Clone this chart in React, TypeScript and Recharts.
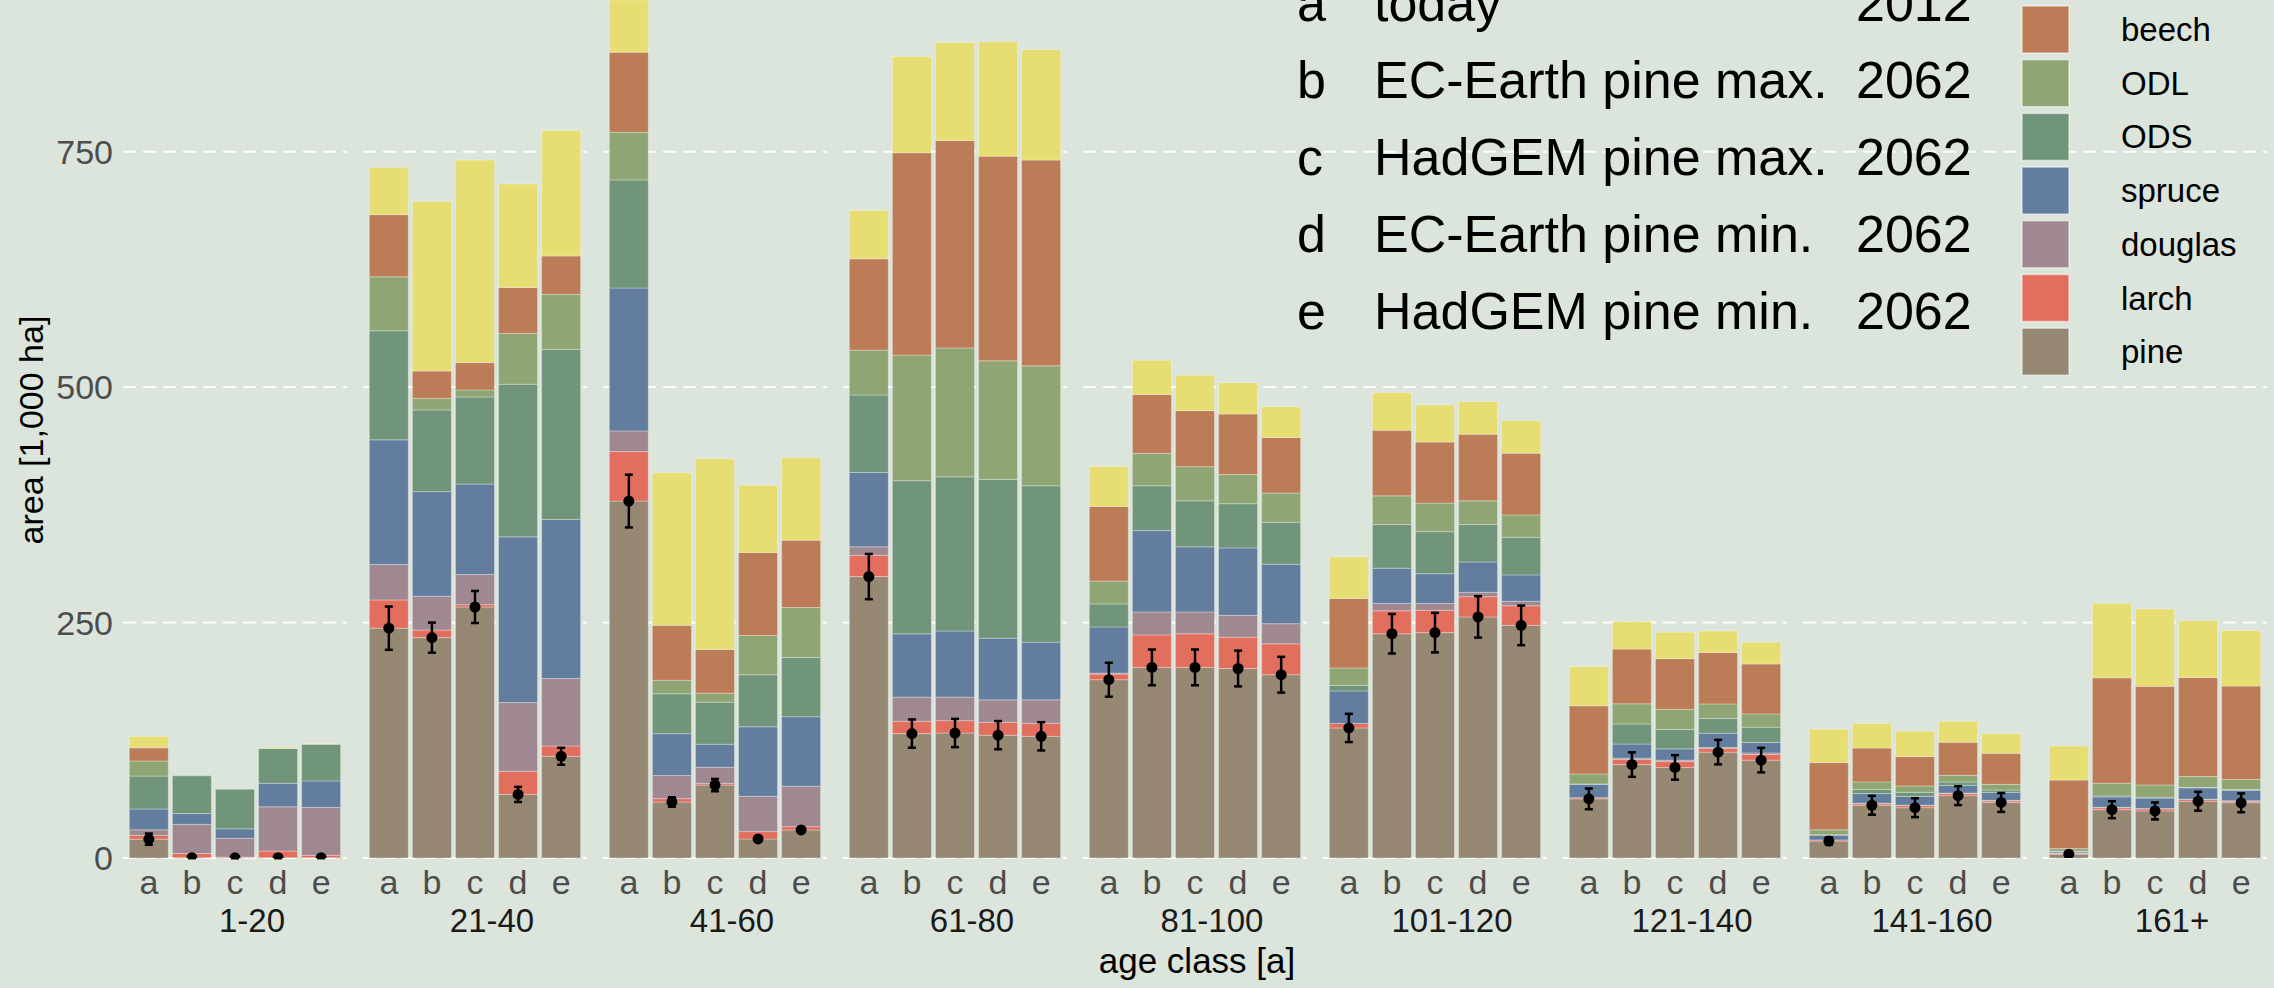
import React from "react";
import { ComposedChart, Bar, Scatter, ErrorBar, XAxis, YAxis, CartesianGrid } from "recharts";

// facets (age classes) and the 5 scenarios shown in each facet
const ageClasses = ["1-20", "21-40", "41-60", "61-80", "81-100", "101-120", "121-140", "141-160", "161+"];
const scenarios = ["a", "b", "c", "d", "e"];

// scenario key printed in the plot
const scenarioNames = ["today", "EC-Earth pine max.", "HadGEM pine max.", "EC-Earth pine min.", "HadGEM pine min."];
const scenarioYears = ["2012", "2062", "2062", "2062", "2062"];

// species, stacked bottom -> top
const speciesKeys = ["pine", "larch", "douglas", "spruce", "ODS", "ODL", "beech", "oak"];
const speciesColors: Record<string, string> = {
  pine: "#968872",
  larch: "#e26e5e",
  douglas: "#a08891",
  spruce: "#637d9e",
  ODS: "#71957a",
  ODL: "#8fa573",
  beech: "#bd7c58",
  oak: "#e6dd73",
};
// legend order, top -> bottom (oak sits above the visible area)
const legendKeys = ["beech", "ODL", "ODS", "spruce", "douglas", "larch", "pine"];

// area [1,000 ha], one row per age class, columns a..e
const pine = [
  [20, 0.3, 0.2, 0.3, 0.3],
  [244, 234, 266.5, 67.5, 108],
  [379, 59.5, 77.4, 20.2, 29.8],
  [298.8, 132.1, 132.7, 130.4, 129.2],
  [189.3, 202.4, 202.4, 201.2, 194.6],
  [138.1, 238.1, 239.3, 256, 247],
  [62.8, 99.2, 96.2, 112.4, 103.9],
  [18, 56, 53.4, 66.2, 59],
  [4, 51.3, 50, 60.3, 58.6],
];
const larch = [
  [4, 4.5, 0.8, 7, 2.5],
  [30, 8, 2.5, 24.5, 11],
  [52.5, 3.5, 1.8, 7.8, 3.5],
  [22.6, 13.1, 13.1, 13.6, 13.7],
  [6, 34.5, 35.6, 33.3, 32.8],
  [4.8, 24.4, 23.8, 21.4, 20.8],
  [1.3, 5.5, 6.4, 4, 6],
  [1.2, 1.7, 2.2, 2.2, 1.7],
  [1, 2.1, 2.1, 1.7, 1.7],
];
const douglas = [
  [6, 31, 20, 47, 51],
  [37.6, 36, 32, 73, 71.5],
  [22, 24.5, 17.2, 37.5, 42.9],
  [9, 25.6, 25, 23.9, 25],
  [1, 24.4, 23.3, 23.2, 21.4],
  [0, 7.7, 7.1, 4.7, 4.8],
  [0, 1.3, 1.3, 1, 1.7],
  [0, 0.5, 0.5, 0.5, 0.5],
  [0.5, 0.5, 0.5, 0.5, 0.5],
];
const spruce = [
  [22, 11.4, 10, 25, 28],
  [132.4, 111, 96, 176, 169],
  [151.7, 44.5, 24.4, 73.8, 73.8],
  [79, 67.2, 70.2, 65.4, 61.3],
  [49, 86.3, 69.1, 71.5, 63.1],
  [34.5, 37.5, 31.6, 32.2, 28],
  [14.1, 15, 12, 15, 11.1],
  [5, 10.2, 9.3, 8.2, 8.5],
  [1.5, 11, 11, 12, 11],
];
const ODS = [
  [35, 40, 42, 37, 39],
  [115.8, 86.7, 92.5, 162, 180.5],
  [114.8, 42.4, 44.7, 55.3, 63],
  [82.2, 162.6, 163.7, 168.5, 166],
  [24.4, 47.6, 48.8, 47, 44.6],
  [5.9, 46.5, 44.7, 39.9, 39.9],
  [0.5, 21.3, 20.5, 15.8, 16.2],
  [0.6, 4.3, 4.3, 3.5, 2.5],
  [0.5, 1, 1, 0.5, 1],
];
const ODL = [
  [16, 0, 0, 0, 0],
  [57.3, 12.3, 7.5, 54, 58.5],
  [50.6, 14.3, 9.5, 41.7, 53],
  [47.6, 133.4, 136.9, 126.1, 127.4],
  [24.4, 34.5, 36.3, 30.9, 31],
  [18.5, 30.3, 30.3, 25, 23.8],
  [10.6, 21.4, 21.4, 15.4, 14.1],
  [5.1, 8.1, 6.8, 7.2, 6],
  [2.5, 13.5, 13, 11.5, 10.5],
];
const beech = [
  [14, 0, 0, 0, 0],
  [66, 29, 29, 48.7, 40.7],
  [85, 58.3, 46.4, 88.1, 71.5],
  [97, 214.8, 220.3, 217.3, 218.4],
  [79.2, 62.5, 59.5, 64.3, 58.9],
  [73.8, 69.7, 64.8, 70.8, 65.5],
  [72.3, 58.1, 53.8, 54.7, 53],
  [71.4, 35.9, 31.2, 35.1, 32.9],
  [72.7, 112, 104.7, 105.2, 99.2],
];
const oak = [
  [12, 0, 0, 1, 0.5],
  [50, 180, 215, 110, 133.3],
  [100, 162, 202.4, 71.4, 87.5],
  [51.2, 102.2, 104.1, 121.4, 117.3],
  [42.3, 36.3, 37.5, 33.3, 32.8],
  [44, 39.8, 39.4, 34.5, 34.5],
  [41.4, 29.1, 28.2, 22.6, 23],
  [35.5, 26.1, 26.9, 22.2, 20.9],
  [36.3, 78.7, 82.1, 60.2, 59],
];
// uncertainty of the pine area (+/-)
const pineErr = [
  [6, 0.5, 0.5, 0.5, 0.5],
  [23, 16, 17, 8, 9],
  [28, 5, 6.5, 2, 2],
  [24, 15, 15, 15, 15],
  [18, 19, 19, 19, 19],
  [15, 21, 21, 22, 21],
  [11, 13, 13, 13, 13],
  [4, 10, 10, 10, 10],
  [2, 9, 9, 10, 10],
];

const yTicks = [0, 250, 500, 750];

const speciesValues: Record<string, number[][]> = { pine, larch, douglas, spruce, ODS, ODL, beech, oak };

const FONT = '"Liberation Sans", Arial, Helvetica, sans-serif';
const BG = "#dce5dc";

// layout (px)
const AXIS_W = 123;
const PANEL_W = 224;
const PANEL_STEP = 240;
const PLOT_H = 858;
const AXIS_H = 42;

const buildPanel = (ci: number) =>
  scenarios.map((s, si) => {
    const row: Record<string, any> = { scen: s, err: pineErr[ci][si] };
    speciesKeys.forEach((k) => {
      row[k] = speciesValues[k][ci][si];
    });
    return row;
  });

function Panel({ ci }: { ci: number }) {
  const first = ci === 0;
  const data = buildPanel(ci);
  return (
    <ComposedChart
      width={first ? AXIS_W + PANEL_W : PANEL_W}
      height={PLOT_H + AXIS_H}
      data={data}
      margin={{ top: 0, right: 0, bottom: 0, left: 0 }}
    >
      <CartesianGrid
        vertical={false}
        horizontalValues={yTicks}
        stroke="#ffffff"
        strokeWidth={2}
        strokeDasharray="13 7"
        strokeOpacity={0.9}
      />
      <XAxis
        dataKey="scen"
        height={AXIS_H}
        axisLine={false}
        tickLine={false}
        tickSize={0}
        tickMargin={12}
        padding={{ left: 4.3, right: 4.3 }}
        tick={{ fill: "#4d4d4d", fontSize: 34, fontFamily: FONT }}
        interval={0}
      />
      <YAxis
        hide={!first}
        width={first ? AXIS_W : 0}
        type="number"
        domain={[0, 911]}
        ticks={yTicks}
        allowDataOverflow
        axisLine={false}
        tickLine={false}
        tickSize={0}
        tickMargin={10}
        tick={{ fill: "#4d4d4d", fontSize: 34, fontFamily: FONT }}
      />
      {speciesKeys.map((k) => (
        <Bar
          key={k}
          dataKey={k}
          stackId="s"
          fill={speciesColors[k]}
          stroke="#ffffff"
          strokeOpacity={0.3}
          strokeWidth={1}
          barSize={39}
          isAnimationActive={false}
        />
      ))}
      <Scatter
        dataKey="pine"
        fill="#000"
        isAnimationActive={false}
        shape={(p: any) => <circle cx={p.cx} cy={p.cy} r={5.5} fill="#000" />}
      >
        <ErrorBar dataKey="err" direction="y" width={4} stroke="#000" strokeWidth={2.5} />
      </Scatter>
    </ComposedChart>
  );
}

export default function App() {
  const rowY = [20.5, 97.5, 175, 252, 329];
  const swatchTop = 6;
  const swatchStep = 53.7;
  return (
    <div
      style={{
        position: "absolute",
        left: 0,
        top: 0,
        width: 2274,
        height: 988,
        background: BG,
        overflow: "hidden",
        fontFamily: FONT,
      }}
    >
      {ageClasses.map((ac, ci) => (
        <div
          key={ac}
          style={{ position: "absolute", top: 0, left: ci === 0 ? 0 : AXIS_W + PANEL_STEP * ci }}
        >
          <Panel ci={ci} />
        </div>
      ))}
      <svg
        width={2274}
        height={988}
        style={{ position: "absolute", left: 0, top: 0, pointerEvents: "none" }}
        fontFamily={FONT}
      >
        {/* axis titles */}
        <text x={43} y={430} transform="rotate(-90 43 430)" textAnchor="middle" fontSize={34} fill="#000">
          area [1,000 ha]
        </text>
        <text x={1197} y={973} textAnchor="middle" fontSize={35} fill="#000">
          age class [a]
        </text>
        {/* facet labels */}
        {ageClasses.map((ac, ci) => (
          <text
            key={ac}
            x={AXIS_W + PANEL_STEP * ci + PANEL_W / 2 + 17}
            y={932}
            textAnchor="middle"
            fontSize={33}
            fill="#1a1a1a"
          >
            {ac}
          </text>
        ))}
        {/* scenario key (top row is cut by the picture edge, as in the original) */}
        {scenarios.map((s, i) => (
          <g key={s} fontSize={52} fill="#000">
            <text x={1297} y={rowY[i]}>{s}</text>
            <text x={1374} y={rowY[i]}>{scenarioNames[i]}</text>
            <text x={1856} y={rowY[i]}>{scenarioYears[i]}</text>
          </g>
        ))}
        {/* species legend */}
        {legendKeys.map((k, i) => {
          const y = swatchTop + swatchStep * i;
          return (
            <g key={k}>
              <rect x={2022} y={y} width={47} height={47} fill={speciesColors[k]} stroke="#ffffff" strokeOpacity={0.5} strokeWidth={1.5} />
              <text x={2121} y={y + 23.5} dominantBaseline="central" fontSize={33} fill="#000">
                {k}
              </text>
            </g>
          );
        })}
      </svg>
    </div>
  );
}
